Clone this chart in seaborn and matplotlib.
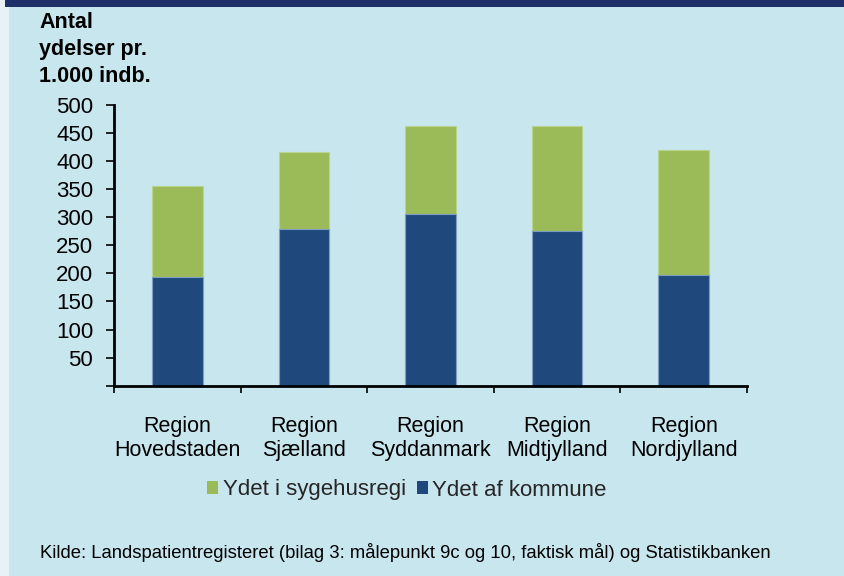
import matplotlib
matplotlib.use("Agg")
import matplotlib.pyplot as plt
import seaborn as sns
import pandas as pd
import numpy as np
from matplotlib.patches import Rectangle, Patch

regions = ["Region\nHovedstaden", "Region\nSjælland", "Region\nSyddanmark",
           "Region\nMidtjylland", "Region\nNordjylland"]
kommune = [194, 280, 305, 276, 198]
sygehus = [161, 136, 157, 186, 221]
yticks = [0, 50, 100, 150, 200, 250, 300, 350, 400, 450, 500]
ytick_labels = ["", "50", "100", "150", "200", "250", "300", "350", "400", "450", "500"]

BG = "#C8E6EE"
BLUE = "#1F497D"
GREEN = "#9BBB59"

sns.set_theme(style="white")
plt.rcParams["font.family"] = ["Liberation Sans", "DejaVu Sans"]

fig = plt.figure(figsize=(8.45, 5.76), dpi=100, facecolor="#E6F2F6")
fig.patches.append(Rectangle((9 / 845, 0), 1, 1, transform=fig.transFigure,
                             facecolor=BG, edgecolor="none", zorder=-2))
fig.patches.append(Rectangle((5 / 845, 1 - 7 / 576), 1, 7 / 576, transform=fig.transFigure,
                             facecolor="#1F3068", edgecolor="none", zorder=-1))

ax = fig.add_axes([114 / 845, 1 - 385.7 / 576, (747 - 114) / 845, (385.7 - 105) / 576])
ax.set_facecolor(BG)

df = pd.DataFrame({"region": regions, "kommune": kommune, "sygehus": sygehus})
df["total"] = df["kommune"] + df["sygehus"]

sns.barplot(data=df, x="region", y="total", color=GREEN, saturation=1, width=0.4,
            edgecolor="#B8D48E", linewidth=0.8, ax=ax)
sns.barplot(data=df, x="region", y="kommune", color=BLUE, saturation=1, width=0.4,
            edgecolor="#7E9EC2", linewidth=0.8, ax=ax)

ax.set_ylim(0, 500)
ax.set_xlim(-0.5, 4.5)
ax.set_yticks(yticks)
ax.set_yticklabels(ytick_labels, fontsize=16)
ax.tick_params(axis="y", which="major", direction="out", length=6, width=1.2,
               color="black", left=True, pad=9, labelcolor="black")

ax.set_xticks(np.arange(-0.5, 5, 1))
ax.set_xticklabels([])
ax.tick_params(axis="x", which="major", direction="out", length=5, width=1.2,
               color="black", bottom=True)
ax.set_xticks(np.arange(5), minor=True)
ax.set_xticklabels(regions, minor=True, fontsize=15.5, linespacing=1.2)
ax.tick_params(axis="x", which="minor", length=0, pad=22, labelcolor="black")

ax.set_xlabel("")
ax.set_ylabel("")
for s in ["top", "right"]:
    ax.spines[s].set_visible(False)
for s in ["left", "bottom"]:
    ax.spines[s].set_color("black")
    ax.spines[s].set_linewidth(2)

fig.text(39 / 845, 1 - 12 / 576, "Antal\nydelser pr.\n1.000 indb.", fontsize=15.5,
         fontweight="bold", va="top", ha="left", linespacing=1.38, color="black")

handles = [Patch(facecolor=GREEN, edgecolor="none", label="Ydet i sygehusregi"),
           Patch(facecolor=BLUE, edgecolor="none", label="Ydet af kommune")]
fig.legend(handles=handles, loc="center", bbox_to_anchor=(407 / 845, 1 - 490 / 576),
           ncol=2, frameon=False, fontsize=16, handlelength=0.5, handleheight=0.5,
           handletextpad=0.2, columnspacing=0.5)

fig.text(40 / 845, 1 - 553 / 576,
         "Kilde: Landspatientregisteret (bilag 3: målepunkt 9c og 10, faktisk mål) og Statistikbanken",
         fontsize=13.3, va="center", ha="left", color="black")

fig.savefig("out.png", dpi=100, facecolor=fig.get_facecolor())
